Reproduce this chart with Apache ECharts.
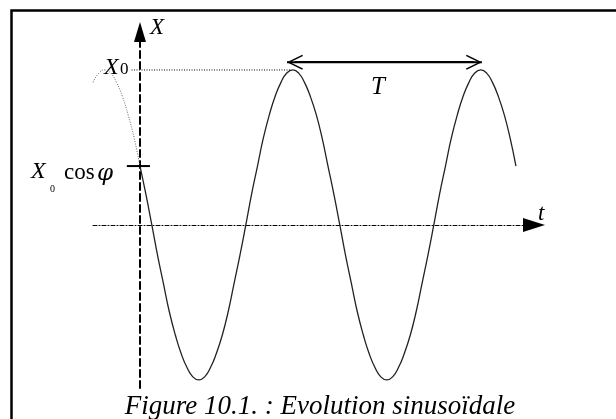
<!DOCTYPE html>
<html>
<head>
<meta charset="utf-8">
<script src="https://cdn.jsdelivr.net/npm/echarts@6/dist/echarts.min.js"></script>
<style>
  html, body { margin: 0; padding: 0; background: #fff; }
  #chart { width: 616px; height: 419px; }
</style>
</head>
<body>
<div id="chart"></div>
<script>
// Time in units of the period T, elongation in units of the amplitude X0.
// Solid part of the oscillation, from t = 0 over two periods.
const tSolid = [0, 0.031, 0.063, 0.094, 0.125, 0.156, 0.188, 0.219, 0.25, 0.281, 0.313, 0.344,
  0.375, 0.406, 0.438, 0.469, 0.5, 0.531, 0.563, 0.594, 0.625, 0.656, 0.688, 0.719,
  0.75, 0.781, 0.813, 0.844, 0.875, 0.906, 0.938, 0.969, 1,
  1.031, 1.063, 1.094, 1.125, 1.156, 1.188, 1.219, 1.25, 1.281, 1.313, 1.344,
  1.375, 1.406, 1.438, 1.469, 1.5, 1.531, 1.563, 1.594, 1.625, 1.656, 1.688, 1.719,
  1.75, 1.781, 1.813, 1.844, 1.875, 1.906, 1.938, 1.969, 2];
const xSolid = [0.38, 0.20, 0, -0.20, -0.38, -0.56, -0.71, -0.83, -0.92, -0.98, -1, -0.98,
  -0.92, -0.83, -0.71, -0.56, -0.38, -0.20, 0, 0.20, 0.38, 0.56, 0.71, 0.83,
  0.92, 0.98, 1, 0.98, 0.92, 0.83, 0.71, 0.56, 0.38,
  0.20, 0, -0.20, -0.38, -0.56, -0.71, -0.83, -0.92, -0.98, -1, -0.98,
  -0.92, -0.83, -0.71, -0.56, -0.38, -0.20, 0, 0.20, 0.38, 0.56, 0.71, 0.83,
  0.92, 0.98, 1, 0.98, 0.92, 0.83, 0.71, 0.56, 0.38];

// Dotted continuation before t = 0.
const tBefore = [-0.25, -0.219, -0.188, -0.156, -0.125, -0.094, -0.063, -0.031, 0];
const xBefore = [0.92, 0.98, 1, 0.98, 0.92, 0.83, 0.71, 0.56, 0.38];

// Reference levels and the period marker.
const amplitude = 1;          // X0
const initialValue = 0.38;    // X0 cos(phi)
const firstPeak = 0.8;        // t of the first maximum
const periodStart = 0.782;    // left tip of the T arrow
const periodEnd = 1.819;      // right tip of the T arrow
const periodLevel = 1.05;     // height of the T arrow

// Axis ranges.
const tMin = -0.25, tMax = 2.096;
const xMin = -1.052, xMax = 1.245;

const pairs = (a, b) => a.map((v, i) => [v, b[i]]);

const serif = '"Liberation Serif", "Times New Roman", serif';
// open arrow head, drawn pointing up and turned along the line by ECharts
const chevron = 'path://M0,16 L7.5,0 L15,16 L13.7,16.8 L7.5,3.4 L1.3,16.8 Z';
const headLen = 16 / 188;     // arrow head length in t units

const chart = echarts.init(document.getElementById('chart'), null, { renderer: 'canvas' });

const label = (x, y, text, font, extra) => ({
  type: 'text', x, y, silent: true,
  style: Object.assign({ text, font, fill: '#000', textVerticalAlign: 'middle' }, extra || {})
});

chart.setOption({
  backgroundColor: '#ffffff',
  animation: false,
  grid: { left: 93, top: 32, width: 441, height: 356, containLabel: false },
  xAxis: {
    type: 'value', min: tMin, max: tMax,
    axisLine: {
      show: true, onZero: true,
      symbol: ['none', 'triangle'], symbolSize: [14, 22],
      lineStyle: { color: '#000', width: 1, type: [4, 2, 1, 2] }
    },
    axisTick: { show: false }, axisLabel: { show: false }, splitLine: { show: false }
  },
  yAxis: {
    type: 'value', min: xMin, max: xMax,
    axisLine: {
      show: true, onZero: true,
      symbol: ['none', 'triangle'], symbolSize: [12, 20],
      lineStyle: { color: '#000', width: 2, type: [7, 4] }
    },
    axisTick: { show: false }, axisLabel: { show: false }, splitLine: { show: false }
  },
  series: [
    {
      name: 'before', type: 'line', data: pairs(tBefore, xBefore),
      smooth: true, symbol: 'none', silent: true,
      lineStyle: { color: '#666', width: 1, type: [1, 1.5] }
    },
    {
      name: 'X(t)', type: 'line', data: pairs(tSolid, xSolid),
      smooth: true, symbol: 'none', silent: true,
      lineStyle: { color: '#222', width: 1.3 }
    },
    {
      name: 'X0 level', type: 'line',
      data: [[-0.045, amplitude], [firstPeak, amplitude]],
      symbol: 'none', silent: true,
      lineStyle: { color: '#000', width: 1, type: [1, 1.5] }
    },
    {
      name: 'X0 cos phi', type: 'line',
      data: [[-0.07, initialValue], [0.053, initialValue]],
      symbol: 'none', silent: true,
      lineStyle: { color: '#000', width: 2 }
    },
    {
      name: 'T', type: 'line', silent: true, symbol: 'none',
      data: [[periodStart, periodLevel], [periodEnd, periodLevel]],
      lineStyle: { color: '#000', width: 2 },
      markLine: {
        silent: true,
        symbol: [chevron, chevron], symbolSize: [15, 16],
        label: { show: false },
        lineStyle: { color: '#000', width: 2, type: 'solid' },
        data: [[
          { coord: [periodStart + headLen / 2, periodLevel] },
          { coord: [periodEnd - headLen / 2, periodLevel] }
        ]]
      }
    }
  ],
  graphic: [
    {
      type: 'polyline', silent: true,
      shape: { points: [[11.5, 440], [11.5, 10.5], [640, 10.5]] },
      style: { stroke: '#000', lineWidth: 2.5, fill: null }
    },
    label(150, 28, 'X', 'italic 23px ' + serif),
    label(104, 68, 'X', 'italic 24px ' + serif),
    label(120, 70, '0', '17px ' + serif),
    label(31, 172, 'X', 'italic 24px ' + serif),
    label(50, 189, '0', '10px ' + serif),
    label(64, 173, 'cos', '23px ' + serif),
    label(97, 174, 'φ', 'italic 23px "DejaVu Serif", serif'),
    label(371, 87, 'T', 'italic 25px ' + serif),
    label(538, 214, 't', 'italic 23px ' + serif),
    label(320, 407, 'Figure 10.1. : Evolution sinusoïdale', 'italic 27px ' + serif, { textAlign: 'center' })
  ]
});
</script>
</body>
</html>
